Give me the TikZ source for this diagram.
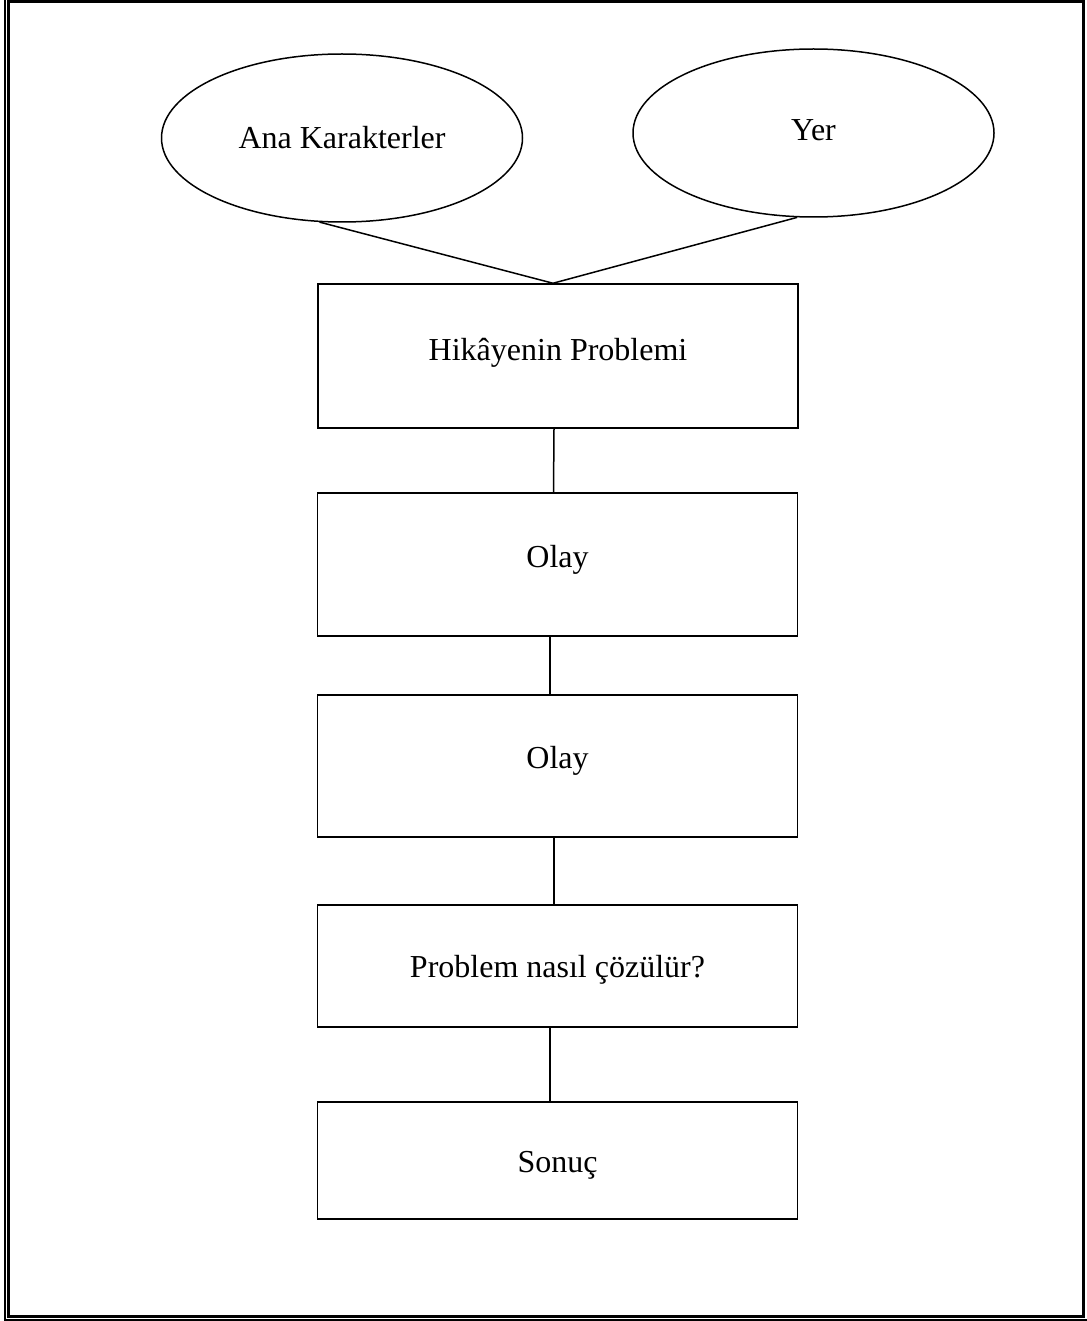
\documentclass[tikz,border=0pt]{standalone}
\usepackage{fontspec}
\setmainfont{Liberation Serif}
\usetikzlibrary{shapes.geometric}
\begin{document}
\begin{tikzpicture}[x=1pt,y=-1pt,
  every node/.style={font=\fontsize{32}{38}\selectfont, inner sep=0pt},
  oval/.style={ellipse, draw, line width=1.5pt, minimum width=361pt, minimum height=168pt},
  stepbox/.style={rectangle, draw, line width=1.5pt, minimum width=480pt},
  link/.style={line width=1.5pt}]
  \useasboundingbox (0,0) rectangle (1086,1321);
  % double page frame
  \draw[line width=1.2pt] (5,-3) rectangle (1088,1320);
  \draw[line width=2.6pt] (8.5,1.5) rectangle (1083.5,1316.5);

  % story elements
  \node[oval] (chars) at (342,138) {Ana Karakterler};
  \node[oval] (place) at (813.5,133) {\raisebox{6pt}{Yer}};

  % story flow boxes
  \node[stepbox, minimum height=144pt, text depth=14pt] (problem) at (558,356) {Hikâyenin Problemi};
  \node[stepbox, minimum height=143pt, text depth=16pt] (event1) at (557.5,564.5) {Olay};
  \node[stepbox, minimum height=142pt, text depth=18pt] (event2) at (557.5,766) {Olay};
  \node[stepbox, minimum height=122pt, text height=29pt] (solve) at (557.5,966) {Problem nasıl çözülür?};
  \node[stepbox, minimum height=117pt, text height=30pt] (result) at (557.5,1160.5) {Sonuç};

  % connectors
  \coordinate (apex) at ([xshift=-5pt]problem.north);
  \draw[link] (chars.255) -- (apex) -- (place.259);
  \draw[link] ([xshift=-4pt]problem.south) -- ([xshift=-4pt]event1.north);
  \draw[link] ([xshift=-7.5pt]event1.south) -- ([xshift=-7.5pt]event2.north);
  \draw[link] ([xshift=-3.5pt]event2.south) -- ([xshift=-3.5pt]solve.north);
  \draw[link] ([xshift=-7.5pt]solve.south) -- ([xshift=-7.5pt]result.north);
\end{tikzpicture}
\end{document}
